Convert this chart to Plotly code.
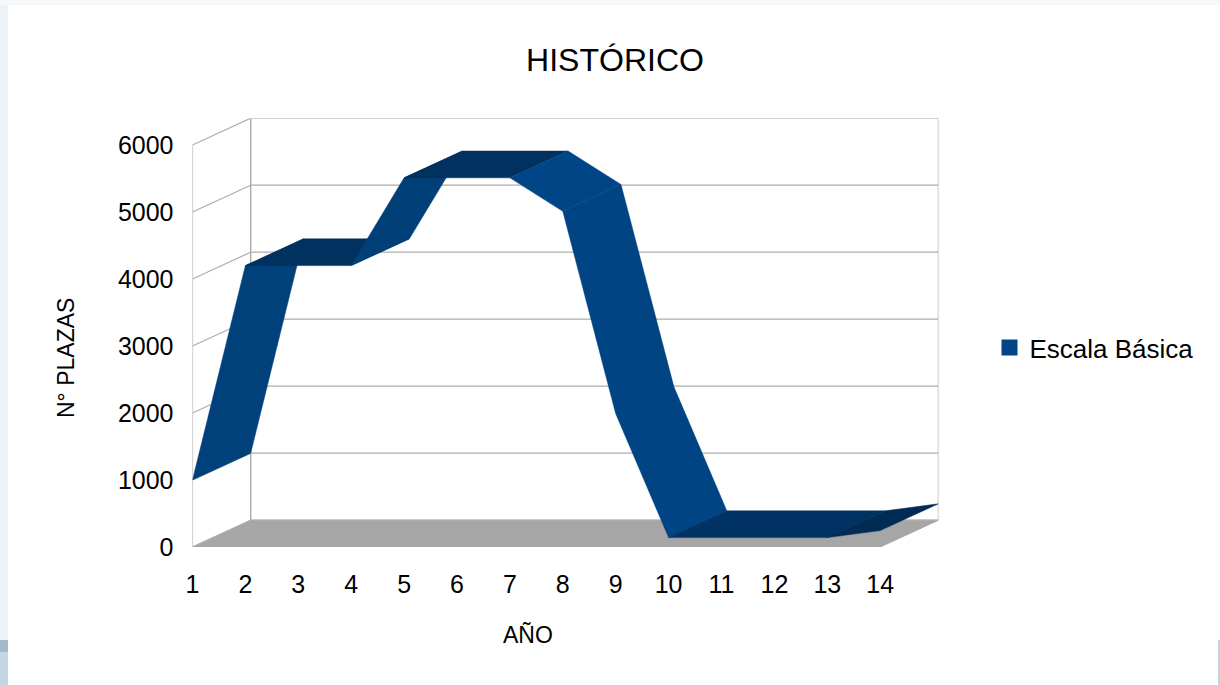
import plotly.graph_objects as go

# Series values
years = list(range(1, 15))
plazas = [1000, 4200, 4200, 4200, 5510, 5510, 5510, 5010, 1990, 140, 140, 140, 140, 245]
y_ticks = [0, 1000, 2000, 3000, 4000, 5000, 6000]
series_name = "Escala Básica"

# Shading of each ribbon segment, from year i to year i+1
segment_colors = ["#00417c", "#00315f", "#00315f", "#003f78", "#00315f", "#00315f",
                  "#004686", "#004483", "#004483", "#003263", "#003263", "#003263", "#002b52"]

# Oblique depth of the pseudo-3D box, in data units
DEPTH_X = 1.1
DEPTH_Y = 400
X_END = years[-1] + DEPTH_X
Y_END = y_ticks[-1] + DEPTH_Y
WALL = "#adadad"
W, H = 1220, 685

fig = go.Figure()


def line(xs, ys, width=1.2):
    fig.add_trace(go.Scatter(x=xs, y=ys, mode="lines", cliponaxis=False, showlegend=False,
                             hoverinfo="skip", line=dict(color=WALL, width=width)))


# Floor
fig.add_trace(go.Scatter(
    x=[years[0], years[-1], X_END, years[0] + DEPTH_X, years[0]],
    y=[0, 0, DEPTH_Y, DEPTH_Y, 0],
    mode="lines", fill="toself", fillcolor="#a6a6a6", cliponaxis=False, showlegend=False,
    hoverinfo="skip", line=dict(color="#a6a6a6", width=1)))

# Back wall grid and side wall grid
for v in y_ticks:
    line([years[0] + DEPTH_X, X_END], [v + DEPTH_Y, v + DEPTH_Y])
    line([years[0], years[0] + DEPTH_X], [v, v + DEPTH_Y])
line([years[0], years[0]], [0, y_ticks[-1]])
line([years[0] + DEPTH_X] * 2, [DEPTH_Y, Y_END], 1.5)
line([X_END, X_END], [DEPTH_Y, Y_END])

# Ribbon: runs of equally shaded year intervals become one polygon
start = 0
for i, color in enumerate(segment_colors):
    if i + 1 < len(segment_colors) and segment_colors[i + 1] == color:
        continue
    xs = years[start:i + 2]
    ys = plazas[start:i + 2]
    fig.add_trace(go.Scatter(
        x=xs + [x + DEPTH_X for x in reversed(xs)] + [xs[0]],
        y=ys + [y + DEPTH_Y for y in reversed(ys)] + [ys[0]],
        mode="lines", fill="toself", fillcolor=color, cliponaxis=False, showlegend=False,
        line=dict(color=color, width=0.5), name=series_name))
    start = i + 1

# Legend entry
fig.add_trace(go.Scatter(x=[None], y=[None], mode="markers", name=series_name,
                         marker=dict(symbol="square", size=16, color="#004586")))

font = "Liberation Sans, Arial, sans-serif"


def page_edge(x0, x1, y0, y1, color):
    return dict(type="rect", xref="paper", yref="paper", x0=x0 / W, x1=x1 / W,
                y0=1 - y1 / H, y1=1 - y0 / H, fillcolor=color, line_width=0, layer="below")


fig.update_layout(
    width=W, height=H, autosize=False,
    margin=dict(l=0, r=0, t=0, b=0, autoexpand=False),
    paper_bgcolor="white", plot_bgcolor="rgba(0,0,0,0)",
    font=dict(family=font, color="#000000"),
    title=dict(text="HISTÓRICO", font=dict(size=32, family=font), xref="paper", yref="paper",
               x=615 / W, y=1 - 60 / H, xanchor="center", yanchor="middle"),
    xaxis=dict(domain=[192.5 / W, 938.4 / W], range=[years[0], X_END], tickmode="array",
               tickvals=years, ticktext=[str(y) for y in years], showgrid=False, zeroline=False,
               showline=False, ticks="outside", ticklen=15, tickcolor="rgba(0,0,0,0)",
               tickfont=dict(size=25, family=font)),
    yaxis=dict(domain=[1 - 547 / H, 1 - 118.2 / H], range=[0, Y_END], tickmode="array",
               tickvals=y_ticks, ticktext=[str(v) for v in y_ticks], showgrid=False, zeroline=False,
               showline=False, ticks="outside", ticklen=13, tickcolor="rgba(0,0,0,0)",
               tickfont=dict(size=25, family=font)),
    showlegend=True,
    legend=dict(x=989.5 / W, y=1 - 347.5 / H, xanchor="left", yanchor="middle", itemwidth=30,
                bgcolor="rgba(0,0,0,0)", font=dict(size=26, family=font)),
    annotations=[
        dict(text="AÑO", xref="paper", yref="paper", x=528 / W, y=1 - 635 / H, showarrow=False,
             font=dict(size=23, family=font), xanchor="center", yanchor="middle"),
        dict(text="N° PLAZAS", xref="paper", yref="paper", x=66 / W, y=1 - 358 / H, showarrow=False,
             textangle=-90, font=dict(size=23, family=font), xanchor="center", yanchor="middle"),
    ],
    shapes=[
        page_edge(0, 8, 0, H, "#eef3f7"),
        page_edge(0, W, 0, 5, "#f5f7f9"),
        page_edge(0, 8, 640, 652, "#a3bacb"),
        page_edge(0, 8, 652, H, "#c2d6e4"),
        page_edge(W - 2, W, 640, H, "#c2d3df"),
    ],
)

fig.write_html("out.html")
